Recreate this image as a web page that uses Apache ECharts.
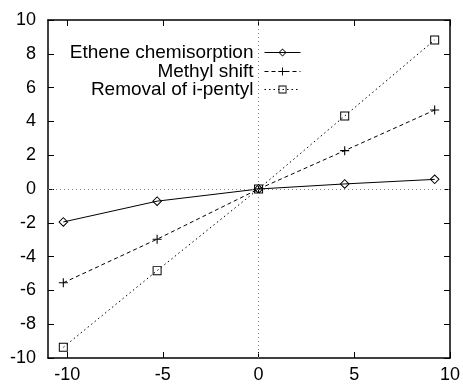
<!DOCTYPE html>
<html>
<head>
<meta charset="utf-8">
<script src="https://cdn.jsdelivr.net/npm/echarts@6/dist/echarts.min.js"></script>
<style>
  html, body { margin: 0; padding: 0; background: #fff; }
  #chart { width: 463px; height: 385px; }
</style>
</head>
<body>
<div id="chart"></div>
<script>
// values
const xValues = [-10.2, -5.3, 0, 4.5, 9.2]
const ethene = [-1.95, -0.72, 0, 0.3, 0.57]
const methyl = [-5.55, -2.97, 0, 2.27, 4.67]
const removal = [-9.37, -4.83, 0, 4.32, 8.82]
const xTicks = [-10, -5, 0, 5, 10]
const seriesNames = ['Ethene chemisorption', 'Methyl shift', 'Removal of i-pentyl']

const font = '"Liberation Sans", Arial, sans-serif'
const pairs = (ys) => xValues.map((x, i) => [x, ys[i]])

// hollow outlines (inner path wound the other way leaves a hole)
const diamondPath = 'path://M5,0L10,5L5,10L0,5ZM5,1.4L1.4,5L5,8.6L8.6,5Z'
const squarePath = 'path://M0,0H10V10H0ZM1.1,1.1V8.9H8.9V1.1Z'
const plusPath = 'path://M4.4,0H5.6V10H4.4ZM0,4.4H10V5.6H0Z'

const chart = echarts.init(document.getElementById('chart'))

const tickStyle = { show: true, inside: true, length: 6, lineStyle: { color: '#000', width: 1 } }
const lineAxis = { show: true, onZero: false, lineStyle: { color: '#000', width: 1.5 } }

const legendAt = (name, top) => ({
  data: [name],
  right: 162,
  top: top,
  align: 'right',
  padding: 0,
  itemWidth: 36,
  itemHeight: 10,
  lineStyle: { width: 1 },
  textStyle: { fontFamily: font, fontSize: 19, color: '#000', lineHeight: 19, padding: [0, 6, 0, 0] },
  selectedMode: false
})

const option = {
  backgroundColor: '#fff',
  animation: false,
  grid: { left: 48, right: 11, top: 20, bottom: 27 },
  legend: [
    legendAt(seriesNames[0], 43),
    legendAt(seriesNames[1], 62),
    legendAt(seriesNames[2], 80)
  ],
  xAxis: [
    {
      type: 'value', position: 'bottom', min: -11, max: 10,
      axisLine: lineAxis,
      axisTick: Object.assign({ customValues: xTicks }, tickStyle),
      axisLabel: { customValues: xTicks, color: '#000', fontFamily: font, fontSize: 18, margin: 8 },
      splitLine: { show: false }
    },
    {
      type: 'value', position: 'top', min: -11, max: 10,
      axisLine: lineAxis,
      axisTick: Object.assign({ customValues: xTicks }, tickStyle),
      axisLabel: { show: false },
      splitLine: { show: false }
    }
  ],
  yAxis: [
    {
      type: 'value', position: 'left', min: -10, max: 10, interval: 2,
      axisLine: lineAxis,
      axisTick: tickStyle,
      axisLabel: { color: '#000', fontFamily: font, fontSize: 18, margin: 12 },
      splitLine: { show: false }
    },
    {
      type: 'value', position: 'right', min: -10, max: 10, interval: 2,
      axisLine: lineAxis,
      axisTick: tickStyle,
      axisLabel: { show: false },
      splitLine: { show: false }
    }
  ],
  series: [
    {
      name: seriesNames[0],
      type: 'line',
      data: pairs(ethene),
      symbol: diamondPath,
      symbolSize: 10,
      color: '#000',
      itemStyle: { color: '#000', borderWidth: 0 },
      lineStyle: { color: '#000', width: 1, type: 'solid' },
      markLine: {
        silent: true,
        symbol: 'none',
        label: { show: false },
        lineStyle: { color: '#888', width: 1, type: [1, 3] },
        data: [{ yAxis: 0 }, { xAxis: 0 }]
      },
      z: 3
    },
    {
      name: seriesNames[1],
      type: 'line',
      data: pairs(methyl),
      symbol: plusPath,
      symbolSize: 9,
      color: '#000',
      itemStyle: { color: '#000', borderWidth: 0 },
      lineStyle: { color: '#000', width: 1, type: [4, 3] },
      z: 3
    },
    {
      name: seriesNames[2],
      type: 'line',
      data: pairs(removal),
      symbol: squarePath,
      symbolSize: 9,
      color: '#000',
      itemStyle: { color: '#000', borderWidth: 0 },
      lineStyle: { color: '#000', width: 1, type: [1.5, 3] },
      z: 3
    }
  ]
}

chart.setOption(option)
</script>
</body>
</html>
